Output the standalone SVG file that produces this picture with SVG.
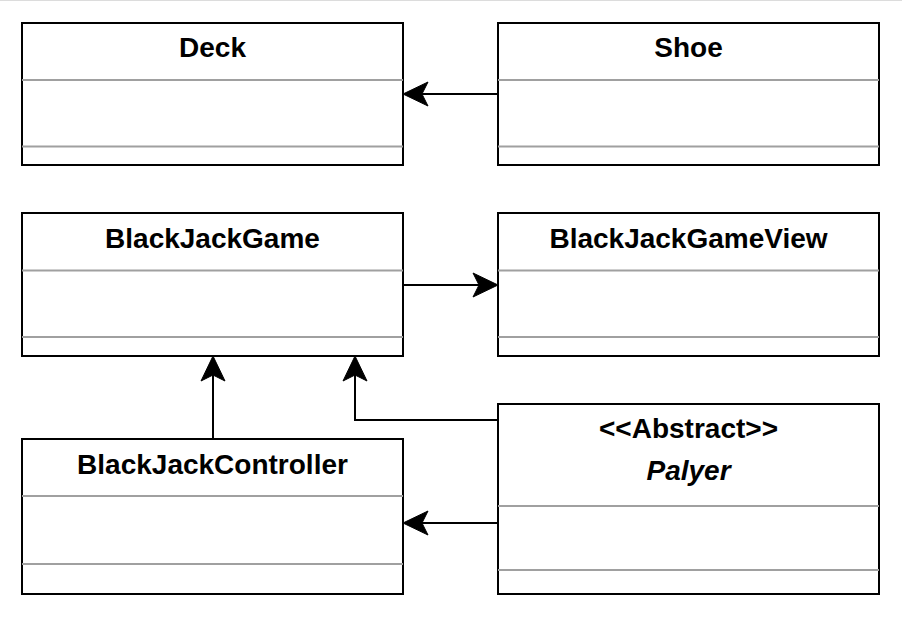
<svg xmlns="http://www.w3.org/2000/svg" width="902" height="617" viewBox="0 0 902 617">
<style>
.box{fill:#fff;stroke:#000;stroke-width:2}
.div{stroke:#a0a0a0;stroke-width:2;fill:none}
.t{font-family:"Liberation Sans",Arial,sans-serif;font-size:28px;font-weight:bold;fill:#000;text-anchor:middle}
.i{font-style:italic}
.c{fill:none;stroke:#000;stroke-width:2}
</style>
<defs>
<marker id="arr" markerUnits="userSpaceOnUse" orient="auto" refX="0" refY="0" markerWidth="30" markerHeight="30" overflow="visible">
<path d="M19,0 L-6,-12 L0,0 L-6,12 Z" fill="#000" stroke="#000" stroke-width="1"/>
</marker>
</defs>
<rect width="902" height="617" fill="#fff"/>
<line x1="0" y1="0.5" x2="902" y2="0.5" stroke="#dcdcdc" stroke-width="1"/>
<g id="Deck">
<rect class="box" x="22" y="23" width="381" height="142"/>
<line class="div" x1="22" y1="80" x2="403" y2="80"/>
<line class="div" x1="22" y1="146.5" x2="403" y2="146.5"/>
<text class="t" x="212.5" y="57">Deck</text>
</g>
<g id="Shoe">
<rect class="box" x="498" y="23" width="381" height="142"/>
<line class="div" x1="498" y1="80" x2="879" y2="80"/>
<line class="div" x1="498" y1="146.5" x2="879" y2="146.5"/>
<text class="t" x="688.5" y="57">Shoe</text>
</g>
<g id="BlackJackGame">
<rect class="box" x="22" y="213" width="381" height="143"/>
<line class="div" x1="22" y1="270.5" x2="403" y2="270.5"/>
<line class="div" x1="22" y1="337" x2="403" y2="337"/>
<text class="t" x="212.5" y="248">BlackJackGame</text>
</g>
<g id="BlackJackGameView">
<rect class="box" x="498" y="213" width="381" height="143"/>
<line class="div" x1="498" y1="270.5" x2="879" y2="270.5"/>
<line class="div" x1="498" y1="337" x2="879" y2="337"/>
<text class="t" x="688.5" y="248">BlackJackGameView</text>
</g>
<g id="BlackJackController">
<rect class="box" x="22" y="439" width="381" height="155"/>
<line class="div" x1="22" y1="496" x2="403" y2="496"/>
<line class="div" x1="22" y1="564" x2="403" y2="564"/>
<text class="t" x="212.5" y="474">BlackJackController</text>
</g>
<g id="Palyer">
<rect class="box" x="498" y="404" width="381" height="190"/>
<line class="div" x1="498" y1="506" x2="879" y2="506"/>
<line class="div" x1="498" y1="570" x2="879" y2="570"/>
<text class="t" x="688.5" y="438">&lt;&lt;Abstract&gt;&gt;</text>
<text class="t i" x="688.5" y="480">Palyer</text>
</g>
<g id="connectors">
<path class="c" d="M498,94 L422,94" marker-end="url(#arr)"/>
<path class="c" d="M403,285 L479,285" marker-end="url(#arr)"/>
<path class="c" d="M213,439 L213,375" marker-end="url(#arr)"/>
<path class="c" d="M498,420 L355,420 L355,375" marker-end="url(#arr)"/>
<path class="c" d="M498,523 L422,523" marker-end="url(#arr)"/>
</g>
</svg>
